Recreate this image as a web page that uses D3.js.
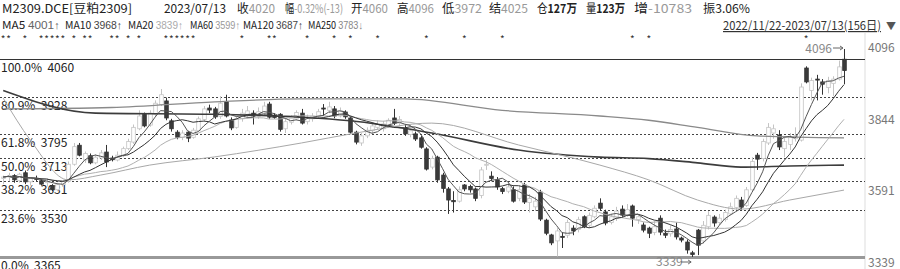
<!DOCTYPE html>
<meta charset="utf-8">
<style>
body { margin: 0; background: #fff; }
svg { font-family: "Noto Sans CJK SC", "Noto Sans", sans-serif; font-size: 12px; }
.fib { stroke: #444; stroke-width: 1; stroke-dasharray: 2,2; }
.ma { fill: none; }
.arr { font-family: "Liberation Sans", sans-serif; }
</style>
<svg width="900" height="269"></svg>
<script src="https://d3js.org/d3.v7.min.js"></script>
<script>

// daily bars, 2022/11/22 - 2023/07/13 (156 days)
var open = [3640,3645,3650,3632,3660,3628,3640,3632,3625,3615,3600,3618,3630,3690,3757,3705,3720,3695,3712,3733,
  3712,3705,3720,3745,3768,3815,3866,3828,3865,3900,3913,3843,3803,3785,3803,3785,3808,3848,3888,3885,
  3858,3910,3846,3820,3850,3862,3870,3858,3870,3902,3862,3866,3815,3838,3850,3870,3840,3850,3858,3888,
  3880,3885,3860,3874,3853,3803,3765,3790,3808,3820,3815,3825,3853,3835,3815,3795,3797,3783,3744,3680,
  3715,3652,3603,3562,3560,3617,3612,3603,3580,3688,3648,3635,3604,3595,3600,3570,3617,3555,3540,3592,
  3493,3441,3420,3436,3440,3465,3460,3505,3475,3505,3553,3522,3485,3500,3532,3510,3543,3495,3476,3465,
  3450,3500,3447,3445,3462,3430,3416,3378,3458,3420,3470,3504,3485,3495,3515,3538,3564,3545,3600,3722,
  3710,3765,3800,3793,3745,3760,3780,3775,4029,3950,3990,3980,3960,3975,3990,4060];
var high = [3650,3660,3655,3660,3668,3645,3650,3640,3640,3620,3625,3635,3700,3765,3765,3735,3728,3725,3740,3758,
  3720,3735,3752,3780,3830,3880,3872,3880,3915,3955,3925,3850,3810,3810,3808,3818,3858,3895,3900,3892,
  3930,3935,3855,3860,3885,3895,3880,3890,3910,3910,3870,3870,3850,3862,3880,3885,3865,3870,3885,3902,
  3910,3895,3890,3880,3858,3808,3800,3820,3835,3845,3842,3852,3885,3860,3830,3815,3805,3790,3750,3720,
  3720,3660,3610,3595,3612,3620,3618,3608,3680,3705,3665,3645,3610,3625,3612,3615,3625,3585,3575,3600,
  3498,3445,3465,3450,3495,3475,3505,3510,3520,3545,3570,3530,3515,3540,3545,3550,3548,3515,3485,3470,
  3490,3510,3460,3475,3485,3435,3425,3385,3462,3490,3525,3510,3515,3530,3555,3580,3575,3610,3715,3730,
  3780,3835,3830,3810,3785,3800,3820,3975,4035,3995,4005,3990,3998,4000,4055,4096];
var low = [3620,3630,3625,3625,3620,3615,3630,3615,3612,3595,3595,3608,3625,3685,3718,3695,3690,3690,3705,3680,
  3700,3700,3715,3740,3762,3810,3820,3822,3858,3895,3845,3805,3778,3775,3768,3780,3805,3842,3870,3850,
  3850,3855,3810,3815,3840,3850,3830,3850,3865,3850,3850,3805,3800,3830,3845,3830,3830,3840,3850,3860,
  3870,3852,3855,3850,3798,3760,3755,3782,3798,3812,3805,3818,3828,3825,3790,3785,3772,3745,3668,3672,
  3625,3590,3515,3520,3555,3595,3590,3560,3570,3670,3630,3600,3585,3588,3555,3560,3550,3520,3525,3490,
  3440,3405,3365,3395,3430,3440,3450,3465,3468,3500,3528,3475,3478,3490,3505,3505,3470,3480,3450,3430,
  3440,3440,3430,3435,3425,3415,3375,3339,3370,3410,3460,3470,3475,3488,3510,3530,3530,3540,3595,3670,
  3700,3758,3780,3740,3715,3740,3770,3770,3975,3915,3915,3935,3940,3930,3985,3972];
var close = [3645,3650,3635,3655,3628,3640,3638,3620,3630,3600,3618,3630,3690,3752,3722,3728,3695,3715,3730,3698,
  3706,3722,3745,3770,3820,3860,3825,3870,3905,3935,3853,3815,3785,3800,3782,3810,3850,3885,3881,3857,
  3905,3860,3818,3850,3870,3878,3860,3875,3895,3856,3855,3813,3840,3852,3872,3835,3855,3860,3875,3886,
  3892,3860,3878,3857,3803,3768,3790,3810,3825,3830,3832,3845,3835,3848,3797,3808,3779,3750,3673,3710,
  3635,3605,3564,3558,3600,3603,3600,3570,3670,3690,3640,3610,3594,3610,3560,3600,3557,3570,3560,3497,
  3447,3413,3455,3434,3485,3455,3495,3470,3510,3535,3535,3483,3505,3525,3511,3530,3500,3505,3458,3447,
  3470,3451,3440,3460,3434,3423,3388,3372,3405,3475,3510,3483,3500,3520,3540,3570,3539,3600,3700,3708,
  3770,3820,3815,3751,3770,3785,3790,3962,3980,3985,3988,3972,3985,3990,4033,4020];

// longer averages as [day index, price]
var ma60Pts = [[0,3923],[5,3775],[12,3635],[18,3652],[27,3687],[39,3716],[55,3765],[65,3800],[79,3835],
  [95,3758],[110,3687],[119,3635],[128,3564],[136,3532],[145,3564],[155,3599]];
var ma120Pts = [[0,3950],[17,3870],[39,3866],[64,3843],[79,3800],[95,3740],[110,3715],[119,3710],
  [128,3695],[136,3680],[145,3684],[155,3687]];
var ma250Pts = [[0,3885],[20,3890],[39,3910],[55,3920],[74,3920],[92,3880],[110,3860],[119,3845],
  [128,3820],[139,3790],[155,3783]];

var fibPct = ["100.0%", "80.9%", "61.8%", "50.0%", "38.2%", "23.6%", "0.0%"];
var fibVal = [4060, 3928, 3795, 3713, 3631, 3530, 3365];
var axisTicks = [4096, 3844, 3591, 3339];
var starIdx = [0,1,4,7,8,9,10,11,13,15,16,20,21,23,25,30,31,32,33,34,35,44,49,50,56,61,64,69,78,85,92,116,119,148];

// header items: position, width, label, value
var header1 = [
  {x: 2, w: 130, k: "M2309.DCE[豆粕2309]", v: ""},
  {x: 164, w: 62, k: "2023/07/13", v: ""},
  {x: 237, w: 38, k: "收", v: "4020"},
  {x: 285, w: 58, k: "幅", v: "-0.32%(-13)"},
  {x: 351, w: 37, k: "开", v: "4060"},
  {x: 397, w: 37, k: "高", v: "4096"},
  {x: 442, w: 40, k: "低", v: "3972"},
  {x: 489, w: 39, k: "结", v: "4025"},
  {x: 537, w: 40, k: "仓", v: "127万", bold: true},
  {x: 586, w: 39, k: "量", v: "123万", bold: true},
  {x: 634, w: 58, k: "增", v: "-10783"},
  {x: 703, w: 47, k: "振", v: "3.06%", dark: true}
];
var header2 = [
  {x: 2, w: 58, k: "MA5", v: "4001↑", c: "#666"},
  {x: 65, w: 57, k: "MA10", v: "3968↑", c: "#444"},
  {x: 128, w: 55, k: "MA20", v: "3839↑", c: "#aaa"},
  {x: 190, w: 50, k: "MA60", v: "3599↑", c: "#999"},
  {x: 243, w: 60, k: "MA120", v: "3687↑", c: "#444"},
  {x: 308, w: 55, k: "MA250", v: "3783↓", c: "#888"}
];

var svg = d3.select("svg"),
    right = 865;

var x = d3.scaleLinear().domain([0, 155]).range([3.2, 844]);
var y = d3.scaleLinear().domain([3339, 4096]).range([263.9, 49.0]);

// header texts
var h1 = svg.selectAll(".h1").data(header1).enter().append("text")
    .attr("class", "h1")
    .attr("x", function(d) { return d.x; })
    .attr("y", 13)
    .attr("fill", "#222")
    .attr("textLength", function(d) { return d.w; })
    .attr("lengthAdjust", "spacingAndGlyphs");
h1.append("tspan").text(function(d) { return d.k; });
h1.append("tspan")
    .attr("fill", function(d) { return (d.bold || d.dark) ? "#222" : "#999"; })
    .attr("font-weight", function(d) { return d.bold ? "bold" : null; })
    .text(function(d) { return d.v; });

var h2 = svg.selectAll(".h2").data(header2).enter().append("text")
    .attr("x", function(d) { return d.x; })
    .attr("y", 29)
    .attr("font-size", 11)
    .attr("fill", "#222")
    .attr("textLength", function(d) { return d.w; })
    .attr("lengthAdjust", "spacingAndGlyphs");
h2.append("tspan").text(function(d) { return d.k + " "; });
h2.append("tspan").attr("class", "arr").attr("fill", function(d) { return d.c; }).text(function(d) { return d.v; });

svg.append("text")
    .attr("x", 723).attr("y", 30)
    .attr("fill", "#333")
    .attr("text-decoration", "underline")
    .attr("textLength", 158)
    .attr("lengthAdjust", "spacingAndGlyphs")
    .text("2022/11/22-2023/07/13(156日)");
svg.append("text")
    .attr("x", 886).attr("y", 30)
    .attr("fill", "#555")
    .attr("font-size", 10)
    .text("▼");

// star markers
svg.selectAll(".star").data(starIdx).enter().append("text")
    .attr("x", function(d) { return x(d); })
    .attr("y", 43)
    .attr("text-anchor", "middle")
    .attr("font-size", 10)
    .attr("fill", "#333")
    .text("*");

// frame
svg.append("line")
    .attr("x1", right).attr("x2", right)
    .attr("y1", 33).attr("y2", 269)
    .attr("stroke", "#ddd");

// fibonacci levels
var fib = svg.append("g");
fibVal.forEach(function(v, i) {
  var yy = Math.round(y(v)) + 0.5;
  var ln = fib.append("line")
      .attr("x1", 0).attr("x2", right)
      .attr("y1", yy).attr("y2", yy);
  if (i == 0) ln.attr("stroke", "#333").attr("stroke-width", 1.2);
  else if (i == fibVal.length - 1) ln.attr("stroke", "#999").attr("stroke-width", 3);
  else ln.attr("class", "fib");
  fib.append("text")
      .attr("x", 1)
      .attr("y", yy + 12)
      .attr("fill", "#222")
      .attr("xml:space", "preserve")
      .text(fibPct[i] + "  " + v);
});

// right axis
svg.selectAll(".tick").data(axisTicks).enter().append("text")
    .attr("x", 868)
    .attr("y", function(d) { return y(d) + 3; })
    .attr("fill", "#777")
    .text(function(d) { return d; });

var defs = svg.append("defs");
defs.append("clipPath").attr("id", "plot")
  .append("rect").attr("x", 0).attr("y", 44).attr("width", right).attr("height", 213);

var plot = svg.append("g").attr("clip-path", "url(#plot)");

// candles
var bw = 3.6;
var bars = plot.selectAll(".bar").data(close).enter().append("g");
bars.append("line")
    .attr("x1", function(d, i) { return Math.round(x(i)) + 0.5; })
    .attr("x2", function(d, i) { return Math.round(x(i)) + 0.5; })
    .attr("y1", function(d, i) { return y(high[i]); })
    .attr("y2", function(d, i) { return y(low[i]); })
    .attr("stroke", function(d, i) { return d >= open[i] ? "#c4c4c4" : "#333"; });
bars.append("rect")
    .attr("x", function(d, i) { return Math.round(x(i)) + 0.5 - bw / 2; })
    .attr("y", function(d, i) { return y(Math.max(d, open[i])); })
    .attr("width", bw)
    .attr("height", function(d, i) { return Math.max(1, Math.abs(y(d) - y(open[i]))); })
    .attr("fill", function(d, i) { return d >= open[i] ? "#fff" : "#3a3a3a"; })
    .attr("stroke", function(d, i) { return d >= open[i] ? "#c4c4c4" : "#333"; })
    .attr("stroke-width", 0.8);

// moving averages
function movingAvg(n) {
  return close.map(function(c, i) {
    return [i, d3.mean(close.slice(Math.max(0, i - n + 1), i + 1))];
  });
}
var line = d3.line().x(function(d) { return x(d[0]); }).y(function(d) { return y(d[1]); });
var smooth = d3.line().x(function(d) { return x(d[0]); }).y(function(d) { return y(d[1]); })
    .curve(d3.curveMonotoneX);

var mas = [
  {pts: ma250Pts, c: "#8a8a8a", w: 1.3, gen: smooth},
  {pts: ma120Pts, c: "#3c3c3c", w: 1.6, gen: smooth},
  {pts: ma60Pts, c: "#a8a8a8", w: 1, gen: smooth},
  {pts: movingAvg(20), c: "#b0b0b0", w: 1, gen: line},
  {pts: movingAvg(10), c: "#333", w: 1, gen: line},
  {pts: movingAvg(5), c: "#555", w: 1, gen: line}
];
plot.selectAll(".ma").data(mas).enter().append("path")
    .attr("class", "ma")
    .attr("d", function(d) { return d.gen(d.pts); })
    .attr("stroke", function(d) { return d.c; })
    .attr("stroke-width", function(d) { return d.w; });

// high / low markers
var hi = d3.maxIndex(high), lo = d3.minIndex(low);
svg.append("text")
    .attr("x", x(hi) - 12).attr("y", y(high[hi]) + 4)
    .attr("text-anchor", "end").attr("fill", "#888")
    .text(high[hi]);
svg.append("path")
    .attr("d", "M" + (x(hi) - 11) + "," + (y(high[hi]) - 1) + "H" + (x(hi) - 1) + "l-3,-2 M" + (x(hi) - 1) + "," + (y(high[hi]) - 1) + "l-3,2")
    .attr("stroke", "#666").attr("fill", "none");
svg.append("text")
    .attr("x", x(lo) - 36).attr("y", 266)
    .attr("fill", "#888")
    .text(low[lo]);
svg.append("path")
    .attr("d", "M" + (x(lo) - 11) + ",262H" + (x(lo) - 1) + "l-3,-2 M" + (x(lo) - 1) + ",262l-3,2")
    .attr("stroke", "#666").attr("fill", "none");

</script>
